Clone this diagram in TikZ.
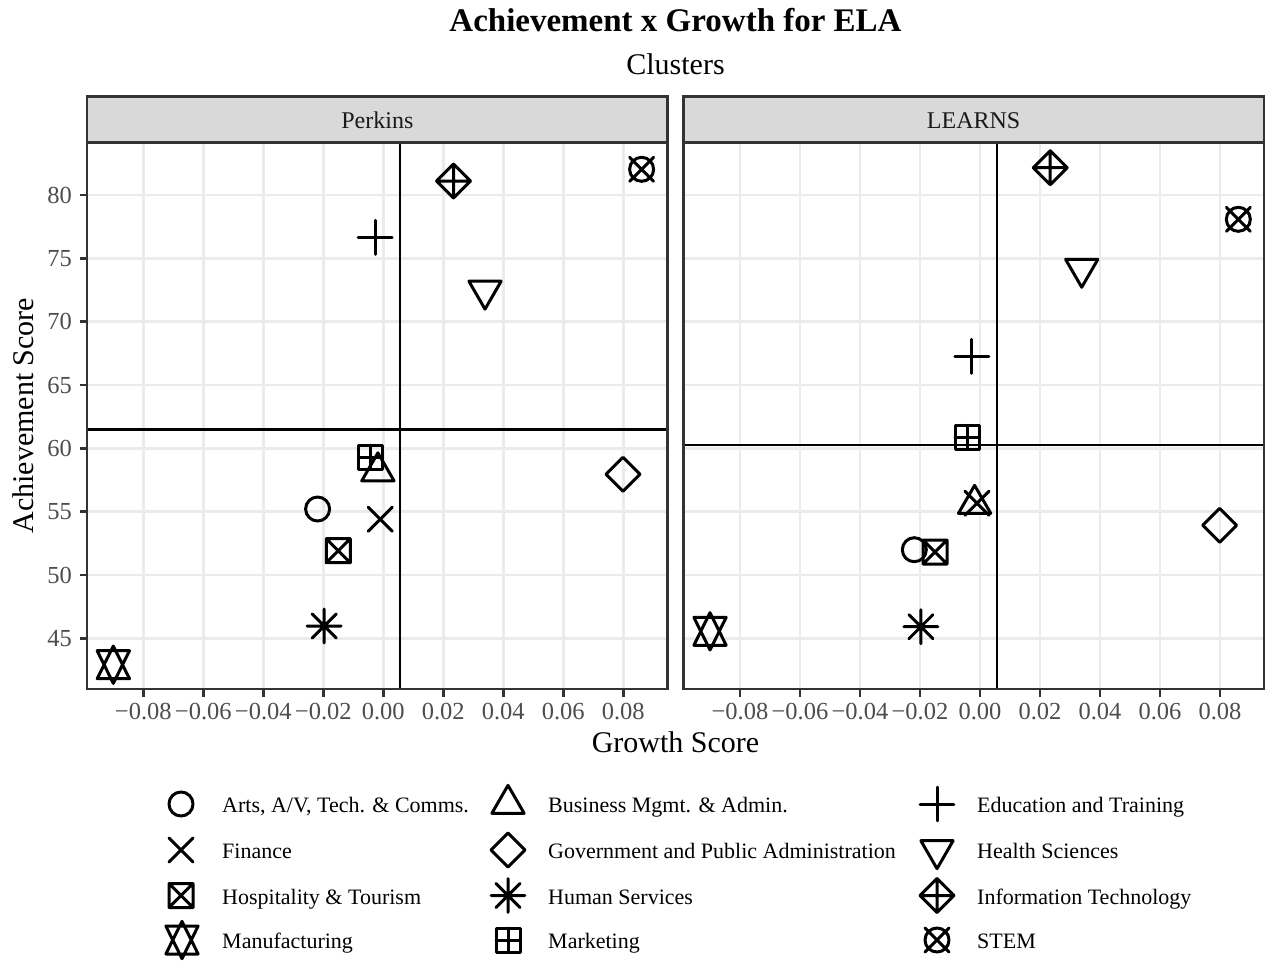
\documentclass[tikz,border=0pt]{standalone}
\usepackage{fontspec}
\setmainfont{Liberation Serif}
\definecolor{g92}{HTML}{EBEBEB}
\definecolor{g85}{HTML}{D9D9D9}
\definecolor{g20}{HTML}{333333}
\definecolor{g30}{HTML}{4D4D4D}
\definecolor{g10}{HTML}{1A1A1A}
\newcommand\gmcirc{\draw[mk] (0,0) circle[radius=12pt];}
\newcommand\gmtri{\draw[mk] (0,-18.66) -- (16.16,9.33) -- (-16.16,9.33) -- cycle;}
\newcommand\gmplus{\draw[mk] (-16.97,0) -- (16.97,0) (0,-16.97) -- (0,16.97);}
\newcommand\gmcross{\draw[mk] (-12,-12) -- (12,12) (-12,12) -- (12,-12);}
\newcommand\gmdiam{\draw[mk] (0,-16.97) -- (16.97,0) -- (0,16.97) -- (-16.97,0) -- cycle;}
\newcommand\gmitri{\draw[mk] (0,18.66) -- (16.16,-9.33) -- (-16.16,-9.33) -- cycle;}
\newcommand\gmsqx{\draw[mk] (-12,-12) rectangle (12,12) (-12,-12) -- (12,12) (-12,12) -- (12,-12);}
\newcommand\gmaster{\draw[mk] (-12,-12) -- (12,12) (-12,12) -- (12,-12) (-16.97,0) -- (16.97,0) (0,-16.97) -- (0,16.97);}
\newcommand\gmdplus{\draw[mk] (0,-16.97) -- (16.97,0) -- (0,16.97) -- (-16.97,0) -- cycle (-16.97,0) -- (16.97,0) (0,-16.97) -- (0,16.97);}
\newcommand\gmcircx{\draw[mk] (0,0) circle[radius=12pt] (-12,-12) -- (12,12) (-12,12) -- (12,-12);}
\newcommand\gmstar{\draw[mk] (0,18.66) -- (16.16,-14) -- (-16.16,-14) -- cycle (0,-18.66) -- (16.16,14) -- (-16.16,14) -- cycle;}
\newcommand\gmsqplus{\draw[mk] (-12,-12) rectangle (12,12) (-12,0) -- (12,0) (0,-12) -- (0,12);}
\begin{document}
\begin{tikzpicture}[x=1pt,y=-1pt,
  mk/.style={draw=black,line width=3pt,line join=round,line cap=round},
  gridline/.style={draw=g92,line width=2.4pt},
  meanline/.style={draw=black,line width=2.5pt},
  border/.style={draw=g20,line width=2.6pt},
  tickmark/.style={draw=g20,line width=2.4pt},
  ticklab/.style={inner sep=0pt,text=g30,font=\fontsize{24.5}{28}\selectfont},
  striplab/.style={inner sep=0pt,text=g10,font=\fontsize{24}{28}\selectfont},
  legtext/.style={inner sep=0pt,anchor=base west,font=\fontsize{22}{26}\selectfont}]
\useasboundingbox (0,0) rectangle (1265,961);
\fill[white] (0,0) rectangle (1265,961);
% titles
\node[inner sep=0pt,anchor=base,font=\bfseries\fontsize{33}{38}\selectfont] (title) at (675.5,31.5) {Achievement x Growth for ELA};
\node[inner sep=0pt,anchor=base,font=\fontsize{30}{34}\selectfont] (subtitle) at (675.5,74) {Clusters};
% panels
\foreach \ox/\px/\mh/\nm in {383.3/87/429.3/Perkins, 980/683.3/445/LEARNS}{
  \begin{scope}
    \clip (\px,142.3) rectangle ({\px+580.7},689);
    \foreach \i in {-4,...,4} \draw[gridline] ({\ox+60*\i},142.3) -- ({\ox+60*\i},689);
    \foreach \i in {0,...,7} \draw[gridline] (\px,{195+63.333*\i}) -- ({\px+580.7},{195+63.333*\i});
    \draw[meanline] ({\ox+16.8},142.3) -- ({\ox+16.8},689);
    \draw[meanline] (\px,\mh) -- ({\px+580.7},\mh);
    \foreach \s/\g/\yl/\yr in {circ/-0.0219/509/549.7, tri/-0.0018/471.5/504, plus/-0.0027/237.3/356.3,
        cross/-0.0010/519.3/503.3, diam/0.0799/474.3/525.3, itri/0.0339/290.5/268.6,
        sqx/-0.0150/550.7/552, aster/-0.0197/626/626.7, dplus/0.0234/181/167.7,
        star/-0.0900/664.7/631.3, sqplus/-0.0043/457/437.3, circx/0.0861/169.3/219.3}{
      \ifdim\ox pt<500pt \def\yy{\yl}\else\def\yy{\yr}\fi
      \begin{scope}[shift={({\ox+3000*\g},\yy)}]
        \csname gm\s\endcsname
      \end{scope}
    }
  \end{scope}
  \draw[border] (\px,142.3) rectangle ({\px+580.7},689);
  \draw[border,fill=g85] (\px,96.7) rectangle ({\px+580.7},142.3);
  \node[striplab,anchor=base] (strip\nm) at ({\px+290.35},128.2) {\nm};
  \foreach \i/\t in {-4/−0.08,-3/−0.06,-2/−0.04,-1/−0.02,0/0.00,1/0.02,2/0.04,3/0.06,4/0.08}{
    \draw[tickmark] ({\ox+60*\i},689) -- ({\ox+60*\i},696.5);
    \node[ticklab,anchor=base] (xl\nm\i) at ({\ox+60*\i},719.5) {\t};
  }
}
% y axis
\foreach \i/\t in {0/80,1/75,2/70,3/65,4/60,5/55,6/50,7/45}{
  \draw[tickmark] (79.5,{195+63.333*\i}) -- (87,{195+63.333*\i});
  \node[ticklab,anchor=base east] (yl\i) at (72,{195+63.333*\i+8.2}) {\t};
}
\node[inner sep=0pt,anchor=base,rotate=90,font=\fontsize{30}{34}\selectfont] (ytitle) at (33.3,415.7) {Achievement Score};
\node[inner sep=0pt,anchor=base,font=\fontsize{30}{34}\selectfont] (xtitle) at (675.5,752.7) {Growth Score};
% legend
\foreach \s/\x/\y in {circ/181/804, cross/181/850, sqx/181/895.5, star/182/940,
    tri/508/804, diam/508/850, aster/508/895.5, sqplus/508/940,
    plus/937/804, itri/937/850, dplus/937/895.5, circx/937/940}{
  \begin{scope}[shift={(\x,\y)}]
    \csname gm\s\endcsname
  \end{scope}
}
\node[legtext] (la) at (222,812.8) {Arts, A/V, Tech. \& Comms.};
\node[legtext] (lb) at (222,858.6) {Finance};
\node[legtext] (lc) at (222,904.3) {Hospitality \& Tourism};
\node[legtext] (ld) at (222,948.6) {Manufacturing};
\node[legtext] (le) at (548,812.8) {Business Mgmt. \& Admin.};
\node[legtext] (lf) at (548,858.6) {Government and Public Administration};
\node[legtext] (lg) at (548,904.3) {Human Services};
\node[legtext] (lh) at (548,948.6) {Marketing};
\node[legtext] (li) at (977,812.8) {Education and Training};
\node[legtext] (lj) at (977,858.6) {Health Sciences};
\node[legtext] (lk) at (977,904.3) {Information Technology};
\node[legtext] (ll) at (977,948.6) {STEM};
\end{tikzpicture}
\end{document}
